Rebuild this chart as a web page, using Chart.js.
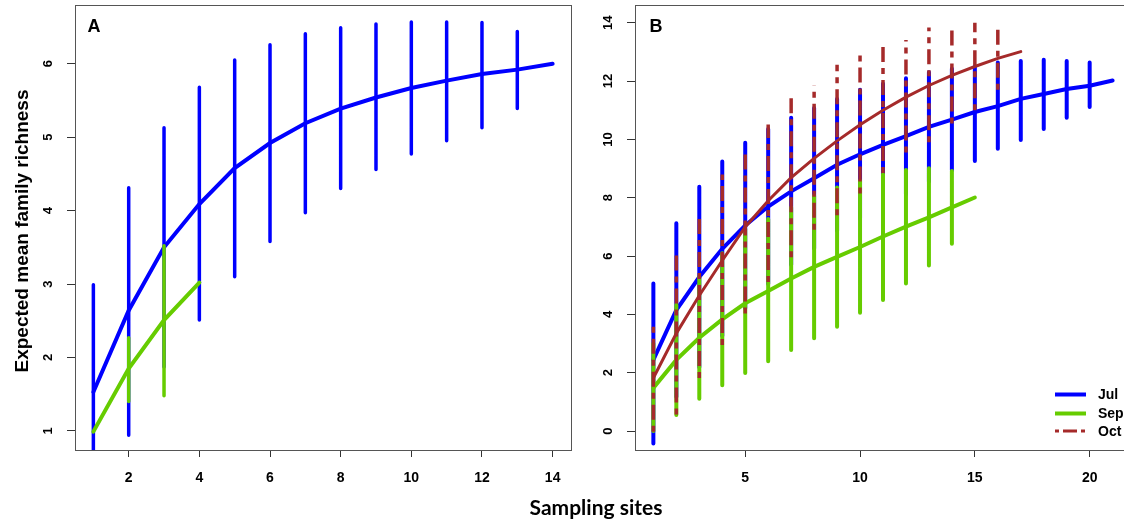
<!DOCTYPE html>
<html>
<head>
<meta charset="utf-8">
<title>Expected mean family richness</title>
<script src="https://cdn.jsdelivr.net/npm/chart.js@4.4.1/dist/chart.umd.min.js"></script>
<style>
  html, body { margin: 0; padding: 0; background: #fff; overflow: hidden; }
  #wrap { position: relative; width: 1124px; height: 522px; overflow: hidden; }
  canvas { position: absolute; top: 0; }
  #chartA { left: 0; }
  #chartB { left: 590px; }
  .ttl { position: absolute; color: #000; white-space: nowrap; text-align: center; }
  #ytitle {
    font-family: "Liberation Sans", Arial, sans-serif; font-weight: bold; font-size: 19px;
    left: -138px; top: 220px; width: 320px; height: 22px; line-height: 22px;
    transform: rotate(-90deg);
  }
  #xtitle {
    font-family: Lato, "Open Sans", sans-serif; font-weight: bold; font-size: 21px;
    left: 446px; top: 495px; width: 300px; line-height: 24px;
  }
</style>
</head>
<body>
<div id="wrap">
  <canvas id="chartA" width="590" height="522"></canvas>
  <canvas id="chartB" width="560" height="522"></canvas>
  <div id="ytitle" class="ttl">Expected mean family richness</div>
  <div id="xtitle" class="ttl">Sampling sites</div>
</div>
<script>
// ---- data ----
// panel A
const sitesJulA = [1, 2, 3, 4, 5, 6, 7, 8, 9, 10, 11, 12, 13, 14];
const julMeanA  = [1.53, 2.64, 3.50, 4.09, 4.58, 4.92, 5.19, 5.39, 5.54, 5.67, 5.77, 5.86, 5.92, 6.00];
const julUpA    = [2.99, 4.31, 5.13, 5.68, 6.05, 6.26, 6.41, 6.49, 6.54, 6.57, 6.57, 6.56, 6.44, null];
const julLowA   = [0.07, 0.94, 1.87, 2.51, 3.10, 3.58, 3.97, 4.30, 4.56, 4.77, 4.95, 5.13, 5.39, null];

const sitesSepA = [1, 2, 3, 4];
const sepMeanA  = [0.99, 1.85, 2.51, 3.02];
const sepUpA    = [null, 2.27, 3.52, null];
const sepLowA   = [null, 1.40, 1.48, null];

const xTicksA = [2, 4, 6, 8, 10, 12, 14];
const yTicksA = [1, 2, 3, 4, 5, 6];

// panel B
const sitesJulB = [1, 2, 3, 4, 5, 6, 7, 8, 9, 10, 11, 12, 13, 14, 15, 16, 17, 18, 19, 20, 21];
const julMeanB  = [2.44, 4.15, 5.28, 6.25, 7.05, 7.70, 8.22, 8.67, 9.13, 9.49, 9.81, 10.11, 10.43, 10.68, 10.94, 11.14, 11.39, 11.56, 11.73, 11.84, 12.02];
const julUpB    = [5.06, 7.13, 8.38, 9.24, 9.89, 10.36, 10.74, 11.08, 11.39, 11.70, 11.91, 12.10, 12.30, 12.42, 12.50, 12.64, 12.69, 12.73, 12.69, 12.64, null];
const julLowB   = [-0.43, 1.17, 2.19, 3.26, 4.21, 5.04, 5.70, 6.26, 6.87, 7.28, 7.71, 8.12, 8.56, 8.94, 9.26, 9.68, 9.98, 10.36, 10.74, 11.11, null];

const sitesSepB = [1, 2, 3, 4, 5, 6, 7, 8, 9, 10, 11, 12, 13, 14, 15];
const sepMeanB  = [1.48, 2.44, 3.20, 3.83, 4.38, 4.80, 5.23, 5.63, 5.97, 6.31, 6.67, 7.01, 7.33, 7.67, 8.01];
const sepUpB    = [3.00, 4.33, 5.30, 6.10, 6.93, 7.27, 7.67, 8.07, 8.35, 8.58, 8.81, 8.95, 9.01, 8.92, null];
const sepLowB   = [0.00, 0.55, 1.11, 1.57, 1.99, 2.39, 2.78, 3.18, 3.58, 4.06, 4.49, 5.06, 5.68, 6.42, null];

const sitesOctB = [1, 2, 3, 4, 5, 6, 7, 8, 9, 10, 11, 12, 13, 14, 15, 16, 17];
const octMeanB  = [1.82, 3.35, 4.65, 5.85, 7.00, 7.90, 8.69, 9.35, 9.95, 10.50, 11.00, 11.45, 11.85, 12.20, 12.50, 12.78, 13.01];
const octUpB    = [3.66, 6.13, 7.33, 8.80, 9.60, 10.51, 11.42, 11.85, 12.56, 13.01, 13.22, 13.41, 13.84, 13.81, 14.00, 13.92, null];
const octLowB   = [-0.02, 0.57, 1.82, 2.95, 4.03, 5.11, 5.96, 6.90, 7.40, 8.15, 8.85, 9.55, 9.90, 10.55, 11.00, 11.70, null];

const xTicksB = [5, 10, 15, 20];
const yTicksB = [0, 2, 4, 6, 8, 10, 12, 14];

const months = ['Jul', 'Sep', 'Oct'];
const colJul = '#0000FF';
const colSep = '#66CC00';
const colOct = '#A52A2A';
const octDash = [6, 6, 15, 6];

// ---- helpers ----
function curve(xs, ys) {
  return xs.map((x, i) => ({ x: x, y: ys[i] }));
}

// vertical error bars as one line dataset, split by null gaps
function errorBars(xs, lo, hi) {
  const pts = [];
  xs.forEach((x, i) => {
    if (lo[i] == null || hi[i] == null) return;
    pts.push({ x: x, y: lo[i] }, { x: x, y: hi[i] }, { x: x, y: null });
  });
  return pts;
}

function lineSet(data, color, width, order, dash) {
  return {
    data: data,
    borderColor: color,
    borderWidth: width,
    borderDash: dash || [],
    borderCapStyle: dash ? 'butt' : 'round',
    pointRadius: 0,
    tension: 0,
    fill: false,
    spanGaps: false,
    clip: 0,
    order: order
  };
}

const tickFont = { family: '"Liberation Sans", Arial, sans-serif', size: 14, weight: 'bold' };

function xScale(min, max, ticks) {
  return {
    type: 'linear', min: min, max: max,
    afterBuildTicks: s => { s.ticks = ticks.map(v => ({ value: v })); },
    afterFit: s => { s.height = 72; },
    grid: { drawOnChartArea: false, drawTicks: true, tickLength: 7, color: '#333' },
    border: { display: true, color: '#555', width: 1 },
    ticks: { font: tickFont, color: '#000', padding: 13, maxRotation: 0, autoSkip: false }
  };
}

function yScale(min, max, ticks, width) {
  return {
    type: 'linear', min: min, max: max,
    afterBuildTicks: s => { s.ticks = ticks.map(v => ({ value: v })); },
    afterFit: s => { s.width = width; },
    grid: { drawOnChartArea: false, drawTicks: true, tickLength: 8, color: '#333' },
    border: { display: true, color: '#555', width: 1 },
    ticks: { display: false }
  };
}

// frame, rotated y labels, panel letter, legend
const decor = {
  id: 'decor',
  afterDraw(chart, args, opts) {
    const ctx = chart.ctx;
    const a = chart.chartArea;
    const ys = chart.scales.y;
    ctx.save();
    ctx.strokeStyle = '#555';
    ctx.lineWidth = 1;
    ctx.strokeRect(Math.round(a.left) + 0.5, Math.round(a.top) + 0.5,
                   Math.round(a.right - a.left), Math.round(a.bottom - a.top));

    ctx.fillStyle = '#000';
    ctx.font = 'bold 13px "Liberation Sans", Arial, sans-serif';
    ctx.textAlign = 'center';
    ctx.textBaseline = 'middle';
    ys.ticks.forEach(t => {
      ctx.save();
      ctx.translate(a.left - 26.5, ys.getPixelForValue(t.value));
      ctx.rotate(-Math.PI / 2);
      ctx.fillText(String(t.value), 0, 0);
      ctx.restore();
    });

    ctx.font = 'bold 18px "Liberation Sans", Arial, sans-serif';
    ctx.textAlign = 'left';
    ctx.textBaseline = 'alphabetic';
    ctx.fillText(opts.letter, a.left + opts.letterDx, a.top + 26.5);

    if (opts.legend) {
      const L = opts.legend;
      L.items.forEach((it, i) => {
        const y = L.y[i];
        ctx.beginPath();
        ctx.strokeStyle = it.color;
        ctx.lineWidth = it.width;
        ctx.setLineDash(it.dash || []);
        ctx.lineCap = 'butt';
        ctx.moveTo(L.x0, y);
        ctx.lineTo(L.x1, y);
        ctx.stroke();
        ctx.setLineDash([]);
        ctx.fillStyle = '#000';
        ctx.font = 'bold 14px "Liberation Sans", Arial, sans-serif';
        ctx.textBaseline = 'middle';
        ctx.fillText(it.label, L.tx, y + 1);
      });
    }
    ctx.restore();
  }
};

function baseOptions(xs, ysc, pad, decorOpts) {
  return {
    responsive: false,
    animation: false,
    devicePixelRatio: 1,
    events: [],
    layout: { padding: pad },
    scales: { x: xs, y: ysc },
    plugins: { legend: { display: false }, tooltip: { enabled: false }, decor: decorOpts }
  };
}

// ---- panel A ----
new Chart(document.getElementById('chartA'), {
  type: 'line',
  data: {
    datasets: [
      lineSet(errorBars(sitesJulA, julLowA, julUpA), colJul, 3.5, 6),
      lineSet(curve(sitesJulA, julMeanA), colJul, 4, 5),
      lineSet(errorBars(sitesSepA, sepLowA, sepUpA), colSep, 3.5, 4),
      lineSet(curve(sitesSepA, sepMeanA), colSep, 4, 3)
    ]
  },
  options: baseOptions(
    xScale(0.48, 14.52, xTicksA),
    yScale(0.74, 6.80, yTicksA, 75),
    { top: 5, right: 19, left: 0, bottom: 0 },
    { letter: 'A', letterDx: 12.5 }
  ),
  plugins: [decor]
});

// ---- panel B ----
new Chart(document.getElementById('chartB'), {
  type: 'line',
  data: {
    datasets: [
      lineSet(errorBars(sitesJulB, julLowB, julUpB), colJul, 4, 6),
      lineSet(curve(sitesJulB, julMeanB), colJul, 4, 5),
      lineSet(errorBars(sitesSepB, sepLowB, sepUpB), colSep, 4, 4),
      lineSet(curve(sitesSepB, sepMeanB), colSep, 4, 3),
      lineSet(errorBars(sitesOctB, octLowB, octUpB), colOct, 3.5, 2, octDash),
      lineSet(curve(sitesOctB, octMeanB), colOct, 3, 1)
    ]
  },
  options: baseOptions(
    xScale(0.2, 21.8, xTicksB),
    yScale(-0.65, 14.61, yTicksB, 45),
    { top: 5, right: 19, left: 0, bottom: 0 },
    {
      letter: 'B', letterDx: 14.5,
      legend: {
        x0: 465, x1: 496, tx: 508, y: [394.5, 413.5, 431],
        items: [
          { label: months[0], color: colJul, width: 4 },
          { label: months[1], color: colSep, width: 4 },
          { label: months[2], color: colOct, width: 3, dash: [4, 4, 14, 4] }
        ]
      }
    }
  ),
  plugins: [decor]
});
</script>
</body>
</html>
